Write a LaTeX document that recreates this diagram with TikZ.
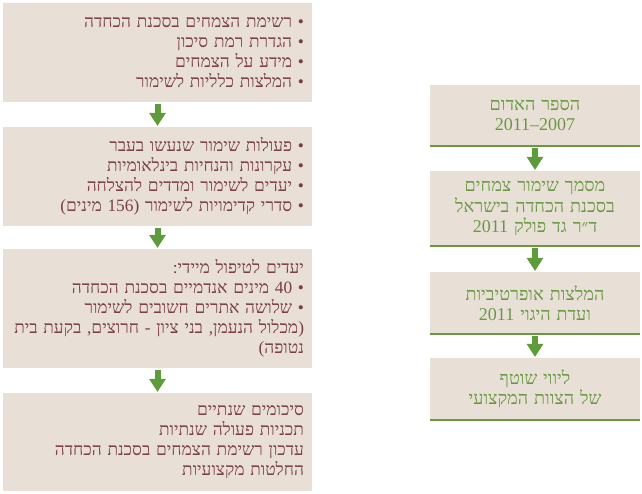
\documentclass[tikz,border=0pt]{standalone}
\usepackage{fontspec}
\usetikzlibrary{arrows.meta}
\newfontfamily\hebfont[Script=Hebrew]{Liberation Serif}
\TeXXeTstate=1
\definecolor{boxFill}{HTML}{E8E0D7}
\definecolor{textRose}{HTML}{7A3E43}
\definecolor{textGreen}{HTML}{6A9842}
\definecolor{arrowGreen}{HTML}{5E9B3B}
\newcommand{\heb}[1]{\beginR #1\endR}
\newcommand{\num}[1]{\beginL #1\endL}
\begin{document}
\begin{tikzpicture}[x=1pt,y=-1pt,
    every node/.style={font=\hebfont\fontsize{17.3}{20}\selectfont, inner sep=0pt},
    leftbox/.style={fill=boxFill, text=textRose, align=right,
      text width=293pt, inner xsep=8pt},
    rightbox/.style={fill=boxFill, text=textGreen, align=center,
      text width=200pt, inner xsep=5pt, font=\hebfont\fontsize{18}{20.5}\selectfont,
      append after command={(\tikzlastnode.south west) edge[draw=textGreen, line width=1.6pt]
        (\tikzlastnode.south east)}},
    flow/.style={draw=arrowGreen, line width=6pt,
      -{Triangle[width=17pt, length=13pt, line width=0pt]},
      shorten <=2pt, shorten >=1pt}]
  \useasboundingbox (0,0) rectangle (642,494);
  % left column
  \node[leftbox, minimum height=99pt] (l1) at (157.5,52.5) {%
    \heb{• רשימת הצמחים בסכנת הכחדה}\\
    \heb{• הגדרת רמת סיכון}\\
    \heb{• מידע על הצמחים}\\
    \heb{• המלצות כלליות לשימור}};
  \node[leftbox, minimum height=99pt] (l2) at (157.5,176.5) {%
    \heb{• פעולות שימור שנעשו בעבר}\\
    \heb{• עקרונות והנחיות בינלאומיות}\\
    \heb{• יעדים לשימור ומדדים להצלחה}\\
    \heb{• סדרי קדימויות לשימור (156 מינים)}};
  \node[leftbox, minimum height=119pt] (l3) at (157.5,308.5) {%
    \heb{יעדים לטיפול מיידי:}\\
    \heb{• 40 מינים אנדמיים בסכנת הכחדה}\\
    \heb{• שלושה אתרים חשובים לשימור}\\
    \heb{(מכלול הנעמן, בני ציון - חרוצים, בקעת בית}\\
    \heb{נטופה)}};
  \node[leftbox, minimum height=98pt] (l4) at (157.5,442) {%
    \heb{סיכומים שנתיים}\\
    \heb{תכניות פעולה שנתיות}\\
    \heb{עדכון רשימת הצמחים בסכנת הכחדה}\\
    \heb{החלטות מקצועיות}};
  % right column
  \node[rightbox, minimum height=61pt] (r1) at (535,115.5) {%
    \heb{הספר האדום}\\
    \heb{\num{2007}–\num{2011}}};
  \node[rightbox, minimum height=75pt] (r2) at (535,208.5) {%
    \heb{מסמך שימור צמחים}\\
    \heb{בסכנת הכחדה בישראל}\\
    \heb{ד״ר גד פולק 2011}};
  \node[rightbox, minimum height=62pt] (r3) at (535,303) {%
    \heb{המלצות אופרטיביות}\\
    \heb{ועדת היגוי 2011}};
  \node[rightbox, minimum height=62pt] (r4) at (535,389) {%
    \heb{ליווי שוטף}\\
    \heb{של הצוות המקצועי}};
  \begin{scope}[flow]
    \draw (l1) to (l2);
    \draw (l2) to (l3);
    \draw (l3) to (l4);
    \draw (r1) to (r2);
    \draw (r2) to (r3);
    \draw (r3) to (r4);
  \end{scope}
\end{tikzpicture}
\end{document}
